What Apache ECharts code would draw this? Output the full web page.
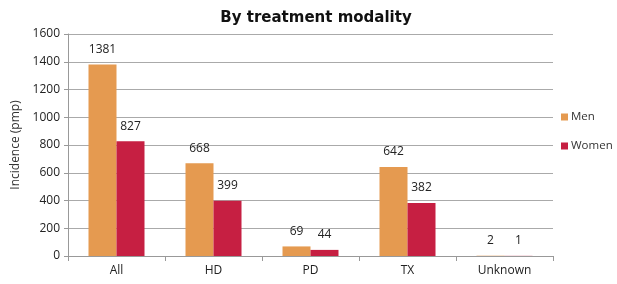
<!DOCTYPE html>
<html>
<head>
<meta charset="utf-8">
<script src="https://cdn.jsdelivr.net/npm/echarts@6/dist/echarts.min.js"></script>
<style>
  html, body { margin: 0; padding: 0; background: #fff; }
  #chart { width: 617px; height: 284px; }
</style>
</head>
<body>
<div id="chart"></div>
<script>
const categories = ["All", "HD", "PD", "TX", "Unknown"];
const men = [1381, 668, 69, 642, 2];
const women = [827, 399, 44, 382, 1];
const colors = ["#E59A50", "#C61F42"];

const c = echarts.init(document.getElementById("chart"));
const font = "'Open Sans', 'DejaVu Sans', sans-serif";

const label = {
  show: true,
  position: "top",
  distance: 9,
  fontSize: 12,
  color: "#222",
  fontFamily: font
};

c.setOption({
  color: colors,
  animation: false,
  title: {
    text: "By treatment modality",
    left: 311,
    textAlign: "center",
    top: 6,
    textStyle: { fontSize: 15, fontWeight: "bold", color: "#111", fontFamily: "'DejaVu Sans', sans-serif" }
  },
  legend: {
    orient: "vertical",
    left: 561,
    top: 111,
    padding: 0,
    itemWidth: 7,
    itemHeight: 7,
    itemGap: 17,
    icon: "rect",
    textStyle: { fontSize: 11.5, color: "#333", fontFamily: font, padding: [0, 0, 0, -2] }
  },
  grid: { left: 68, right: 64, top: 34, bottom: 28 },
  xAxis: {
    type: "category",
    data: categories,
    axisLine: { lineStyle: { color: "#999" } },
    axisTick: { show: true, length: 5, lineStyle: { color: "#999" } },
    axisLabel: { fontSize: 12, color: "#222", fontFamily: font, margin: 9 }
  },
  yAxis: {
    type: "value",
    min: 0,
    max: 1600,
    interval: 200,
    name: "Incidence (pmp)",
    nameLocation: "middle",
    nameGap: 45,
    nameTextStyle: { fontSize: 12, color: "#333", fontFamily: font },
    axisLine: { show: true, lineStyle: { color: "#999" } },
    axisTick: { show: true, length: 4, lineStyle: { color: "#999" } },
    axisLabel: { fontSize: 12, color: "#222", fontFamily: font, margin: 8, formatter: v => String(v) },
    splitLine: { lineStyle: { color: "#aaa" } }
  },
  series: [
    { name: "Men", type: "bar", data: men, barWidth: 28, barGap: "0%", label: label },
    { name: "Women", type: "bar", data: women, barWidth: 28, barGap: "0%", label: label }
  ]
});
window.addEventListener("resize", () => c.resize());
</script>
</body>
</html>
